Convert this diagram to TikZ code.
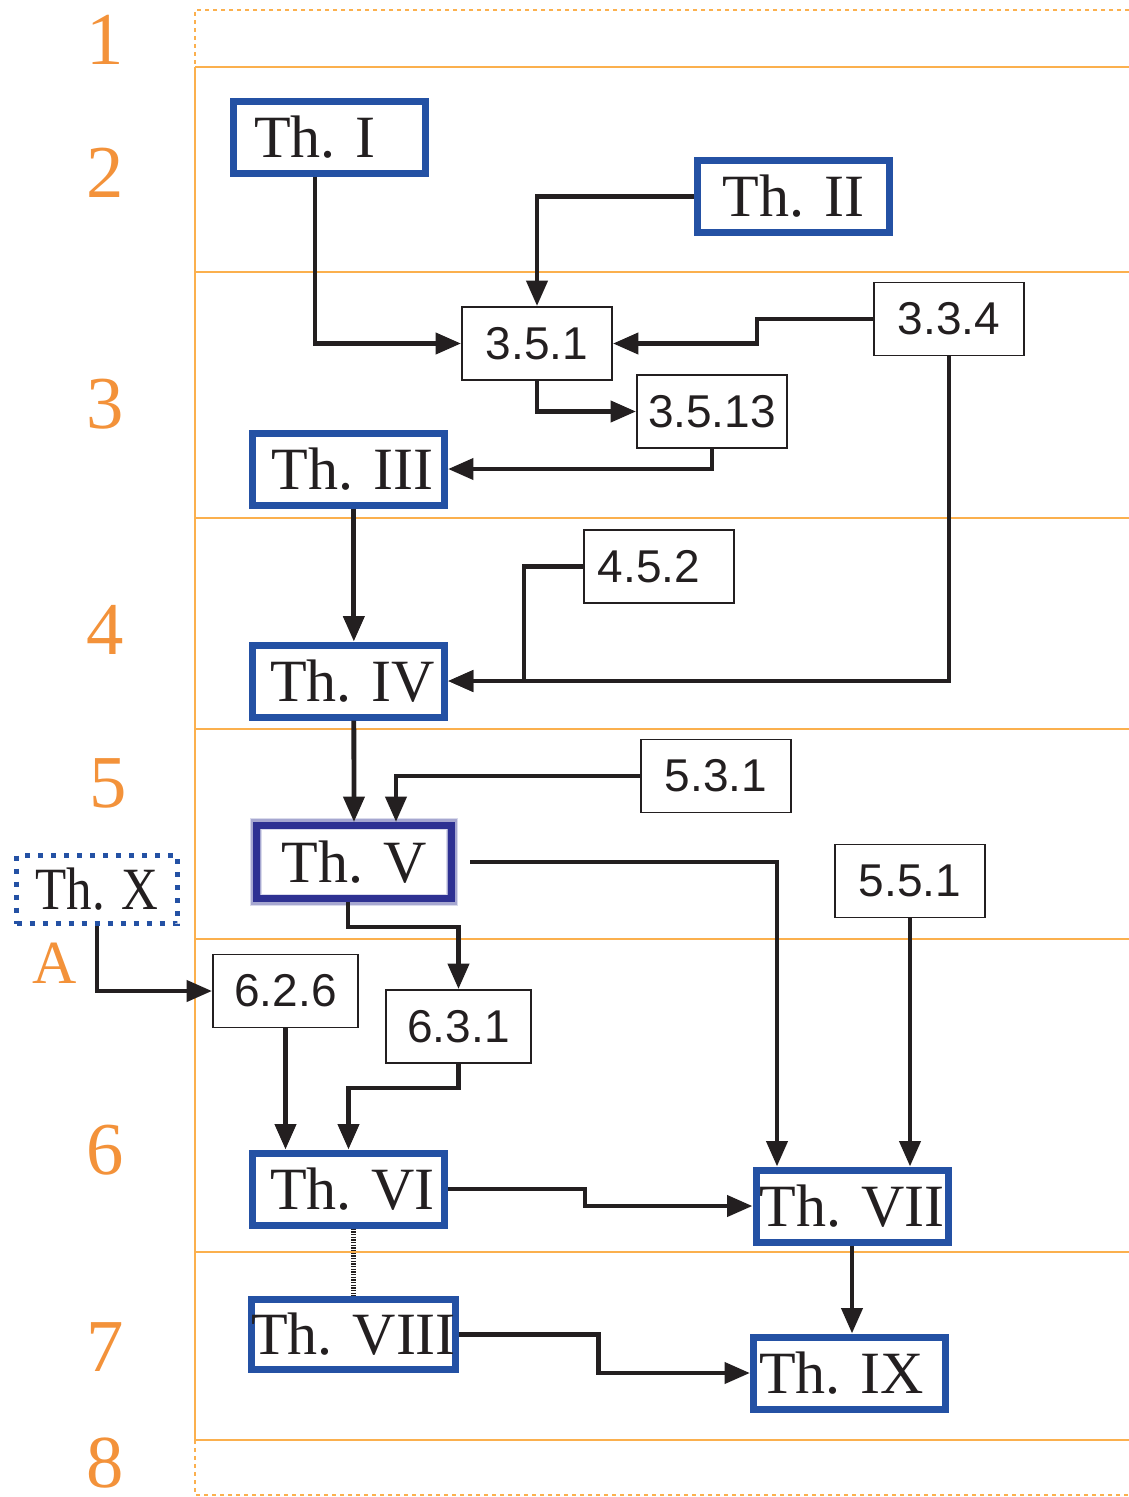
\documentclass[tikz,border=0pt]{standalone}
\usepackage{fontspec}
\usepackage{graphicx}
\setmainfont{Liberation Serif}
\newfontfamily\numfont{Liberation Sans}
\usetikzlibrary{arrows.meta}
\definecolor{thblue}{HTML}{2451A4}
\definecolor{thpurple}{HTML}{2E3192}
\definecolor{bandor}{HTML}{FBB04E}
\definecolor{labor}{HTML}{F3923A}
\definecolor{ink}{HTML}{231F20}
\tikzset{
  thbox/.style={draw=thblue, line width=5.25pt, minimum width=144pt, minimum height=54pt, inner sep=0pt, text=ink, font=\fontsize{45}{50}\selectfont},
  secbox/.style={draw=ink, line width=1.4pt, minimum width=112.5pt, minimum height=54.75pt, inner sep=0pt, text=ink, font=\numfont\fontsize{34.5}{40}\selectfont},
  rowlab/.style={text=labor, inner sep=0pt, font=\fontsize{56}{60}\selectfont},
  conn/.style={draw=ink, line width=3.6pt, -{Triangle[length=19pt,width=15.5pt]}},
  band/.style={draw=bandor, line width=1.6pt},
  bandd/.style={draw=bandor, line width=1.6pt, dash pattern=on 3pt off 3pt}
}
\begin{document}
\begin{tikzpicture}[x=0.75pt,y=-0.75pt]
\useasboundingbox (0,0) rectangle (1129,1497);
% bands
\draw[bandd] (1129,10) -- (195,10) -- (195,67);
\draw[bandd] (195,1440) -- (195,1495) -- (1129,1495);
\draw[band] (195,67) -- (195,1440);
\foreach \yy in {67,272,518,729,939,1252,1440} \draw[band] (195,\yy) -- (1129,\yy);
% row labels
\node[rowlab] (r1) at (105,40) {1};
\node[rowlab] (r2) at (105,173) {2};
\node[rowlab] (r3) at (105,404) {3};
\node[rowlab] (r4) at (105,630) {4};
\node[rowlab] (r5) at (108,783) {5};
\node[rowlab] (r6) at (105,1150) {6};
\node[rowlab] (r7) at (105,1347) {7};
\node[rowlab] (r8) at (105,1463) {8};
\node[rowlab, font=\fontsize{46}{50}\selectfont] (rA) at (55,963) {A};
% theorem boxes
\node[thbox] (ThI) at (329,137) {Th. I\hspace{21pt}\mbox{}};
\node[thbox] (ThII) at (793.5,196.5) {Th. II};
\node[thbox] (ThIII) at (348.5,469) {\hspace{6pt}Th. III};
\node[thbox] (ThIV) at (348.5,681) {\hspace{6pt}Th. IV};
\draw[thpurple, line width=9pt, opacity=0.18] (256,824) rectangle (452,900);
\draw[thpurple, line width=7pt, opacity=0.3] (256,824) rectangle (452,900);
\node[thbox, draw=thpurple, minimum width=146.25pt, minimum height=54.75pt] (ThV) at (354,862) {Th. V};
\node[thbox, dash pattern=on 3.75pt off 6pt, line width=3.75pt, minimum width=120.75pt, minimum height=51pt] (ThX) at (97,889.5) {\scalebox{0.85}[1]{Th. X}};
\node[thbox] (ThVI) at (348.5,1189) {\hspace{6pt}Th. VI};
\node[thbox] (ThVII) at (852,1206) {Th. VII};
\node[thbox, minimum width=148.5pt, minimum height=52.5pt] (ThVIII) at (353.5,1334.5) {Th. VIII};
\node[thbox] (ThIX) at (849.5,1373) {\hspace{-12pt}Th. IX};
% section boxes
\node[secbox] (n351) at (537,343.5) {3.5.1};
\node[secbox] (n334) at (949,319) {3.3.4};
\node[secbox] (n3513) at (712,411.5) {3.5.13};
\node[secbox] (n452) at (659,566.5) {4.5.2\hspace{15pt}\mbox{}};
\node[secbox] (n531) at (716,776) {5.3.1};
\node[secbox] (n551) at (910,881) {5.5.1};
\node[secbox, minimum width=108.75pt] (n626) at (285.5,991) {6.2.6};
\node[secbox, minimum width=108.75pt] (n631) at (458.5,1026.5) {6.3.1};
% connectors
\draw[conn] ([xshift=-10.5pt]ThI.south) |- (n351.west);
\draw[conn] (ThII.west) -| (n351.north);
\draw[conn] (n334.west) -- ++(-116,0) |- (n351.east);
\draw[conn] (n351.south) |- (n3513.west);
\draw[conn] (n3513.south) |- (ThIII.east);
\draw[conn] ([xshift=4pt]ThIII.south) -- ([xshift=4pt]ThIV.north);
\draw[conn] (n334.south) |- (ThIV.east);
\draw[conn] (n452.west) -- ++(-59,0) |- (ThIV.east);
\draw[conn] ([xshift=4pt]ThIV.south) -- (ThV.north);
\draw[conn] (n531.west) -| ([xshift=31.5pt]ThV.north);
\draw[conn] ([xshift=11.25pt]ThV.east) -| ([xshift=-56.25pt]ThVII.north);
\draw[conn] (n551.south) -- (n551.south |- ThVII.north);
\draw[conn] ([xshift=-4.5pt]ThV.south) -- ++(0,25) -| (n631.north);
\draw[conn] (ThX.south) |- (n626.west);
\draw[conn] (n626.south) -- (n626.south |- ThVI.north);
\draw[conn] (n631.south) -- ++(0,24) -| (ThVI.north);
\draw[conn] (ThVI.east) -- ++(137,0) |- (ThVII.west);
\draw[conn] (ThVII.south) -- (ThVII.south |- ThIX.north);
\draw[conn] (ThVIII.east) -- ++(139,0) |- (ThIX.west);
\draw[draw=ink, line width=3.2pt, dash pattern=on 1.1pt off 0.9pt] (ThVIII.north |- ThVI.south) -- (ThVIII.north);
\end{tikzpicture}
\end{document}
